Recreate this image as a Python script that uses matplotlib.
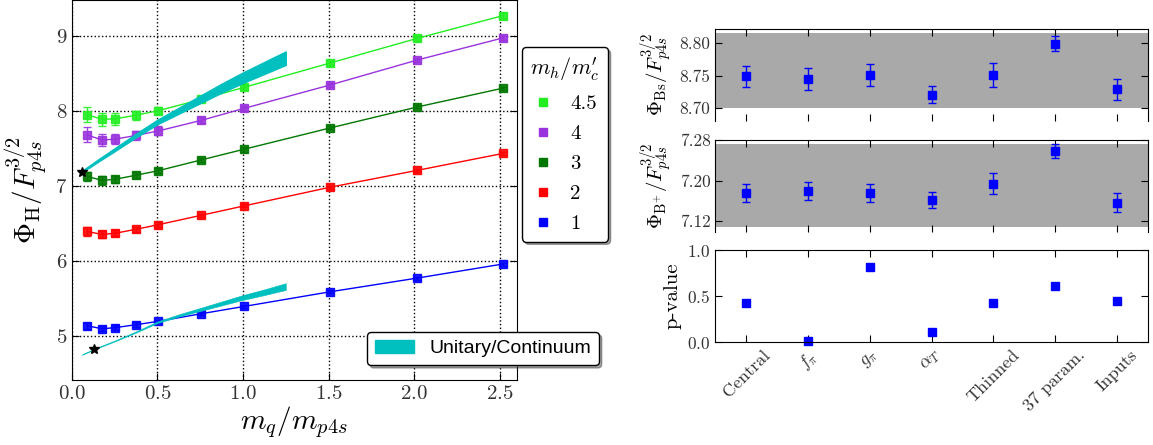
import matplotlib
matplotlib.use("Agg")
import matplotlib.pyplot as plt
from matplotlib.lines import Line2D
from matplotlib.patches import Patch

plt.rcParams['font.family'] = 'serif'
plt.rcParams['font.serif'] = ['cmr10', 'DejaVu Serif']
plt.rcParams['mathtext.fontset'] = 'cm'
plt.rcParams['axes.formatter.use_mathtext'] = True
plt.rcParams['xtick.direction'] = 'in'
plt.rcParams['ytick.direction'] = 'in'

# ---- left panel data ----
mq = [0.09, 0.175, 0.25, 0.375, 0.505, 0.755, 1.005, 1.51, 2.02, 2.52]
mh_labels = ["4.5", "4", "3", "2", "1"]
mh_colors = ["#22ee22", "#9933dd", "#007700", "#ff0000", "#0000ff"]
phi = [
    [7.947, 7.885, 7.89, 7.94, 8.0, 8.15, 8.31, 8.636, 8.965, 9.267],
    [7.676, 7.61, 7.62, 7.67, 7.73, 7.87, 8.03, 8.343, 8.676, 8.97],
    [7.125, 7.07, 7.085, 7.14, 7.2, 7.343, 7.485, 7.77, 8.05, 8.30],
    [6.39, 6.35, 6.365, 6.419, 6.48, 6.605, 6.73, 6.98, 7.205, 7.43],
    [5.133, 5.093, 5.107, 5.147, 5.192, 5.293, 5.39, 5.586, 5.769, 5.956],
]
phi_err = [
    [0.10, 0.09, 0.08, 0.06, 0.05, 0.04, 0.04, 0.03, 0.03, 0.03],
    [0.10, 0.08, 0.07, 0.06, 0.06, 0.04, 0.03, 0.03, 0.03, 0.03],
    [0.06, 0.06, 0.05, 0.04, 0.03, 0.03, 0.03, 0.02, 0.02, 0.02],
    [0.06, 0.05, 0.04, 0.03, 0.03, 0.02, 0.02, 0.02, 0.02, 0.02],
    [0.04, 0.03, 0.03, 0.03, 0.02, 0.02, 0.02, 0.02, 0.02, 0.02],
]

# unitary / continuum bands
band_x = [0.06, 0.15, 0.25, 0.375, 0.5, 0.625, 0.75, 0.875, 1.0, 1.125, 1.25]
bs_mid = [7.19, 7.33, 7.48, 7.67, 7.85, 8.0, 8.15, 8.30, 8.44, 8.57, 8.70]
bs_hw = [0.01, 0.015, 0.02, 0.025, 0.03, 0.04, 0.05, 0.06, 0.07, 0.08, 0.09]
bp_mid = [4.75, 4.84, 4.93, 5.05, 5.18, 5.27, 5.35, 5.43, 5.51, 5.58, 5.655]
bp_hw = [0.004, 0.005, 0.006, 0.008, 0.011, 0.015, 0.02, 0.026, 0.032, 0.038, 0.045]

star_x = [0.057, 0.129]
star_y = [7.18, 4.82]

# ---- right panels data ----
variants = ["Central", r"$f_\pi$", r"$g_\pi$", r"$\alpha_T$", "Thinned", "37 param.", "Inputs"]
phi_bs = [8.749, 8.745, 8.751, 8.721, 8.751, 8.799, 8.729]
phi_bs_err = [0.0163, 0.0166, 0.017, 0.0135, 0.019, 0.011, 0.0166]
phi_bp = [7.176, 7.179, 7.175, 7.1615, 7.194, 7.259, 7.156]
phi_bp_err = [0.018, 0.018, 0.018, 0.0165, 0.02, 0.0135, 0.0185]
pvalue = [0.423, 0.01, 0.817, 0.113, 0.43, 0.609, 0.449]

fig = plt.figure(figsize=(11.53, 4.45), dpi=100)

# ---------------- left ----------------
ax = fig.add_axes([0.0624, 0.1461, 0.3857, 0.854])
for i in range(len(phi)):
    c = mh_colors[i]
    ax.plot(mq, phi[i], '-', color=c, linewidth=1, zorder=2)
    ax.errorbar(mq, phi[i], yerr=phi_err[i], fmt='s', color=c, ecolor=c,
                markersize=6, capsize=3, elinewidth=1, alpha=0.9, zorder=3)

lo = [bs_mid[i] - bs_hw[i] for i in range(len(band_x))]
hi = [bs_mid[i] + bs_hw[i] for i in range(len(band_x))]
ax.fill_between(band_x, lo, hi, color='#00bfbf', linewidth=1.0, edgecolor='#00bfbf', zorder=4)
lo = [bp_mid[i] - bp_hw[i] for i in range(len(band_x))]
hi = [bp_mid[i] + bp_hw[i] for i in range(len(band_x))]
ax.fill_between(band_x, lo, hi, color='#00bfbf', linewidth=0.4, edgecolor='#00bfbf', zorder=4)
ax.plot(star_x, star_y, '*', color='k', markersize=7, zorder=5)

ax.set_xlim([0.0, 2.6])
ax.set_ylim([4.41, 9.476])
ax.set_xticks([0.0, 0.5, 1.0, 1.5, 2.0, 2.5])
ax.set_yticks([5, 6, 7, 8, 9])
ax.tick_params(labelsize=15, right=True, labelcolor='#333333', length=5)
ax.grid(True, linestyle=':', color='k', linewidth=1)
ax.set_xlabel(r"$m_q/m_{p4s}$", fontsize=21, labelpad=1)
ax.set_ylabel(r"$\Phi_{\rm H}/F_{p4s}^{3/2}$", fontsize=21, labelpad=4)

handles = []
for i in range(len(mh_labels)):
    handles.append(Line2D([], [], marker='s', linestyle='none', color=mh_colors[i], markersize=6))
leg1 = ax.legend(handles, mh_labels, title=r"$m_h/m_c'$", loc='upper left',
                 bbox_to_anchor=(1.012, 0.876), borderaxespad=0, fontsize=15,
                 title_fontsize=16, shadow=True, fancybox=True, handlelength=1.0,
                 labelspacing=0.55, framealpha=1, edgecolor='k')
ax.add_artist(leg1)
leg2 = ax.legend([Patch(color='#00bfbf')], ["Unitary/Continuum"], loc='lower right',
                 bbox_to_anchor=(1.185, 0.039), borderaxespad=0,
                 prop={'family': 'Liberation Sans', 'size': 14}, shadow=True,
                 fancybox=True, framealpha=1, edgecolor='k', handlelength=2.0)

# ---------------- right ----------------
xs = list(range(len(variants)))
ax1 = fig.add_axes([0.6204, 0.7288, 0.375, 0.2054])
ax2 = fig.add_axes([0.6204, 0.4793, 0.375, 0.2060])
ax3 = fig.add_axes([0.6204, 0.2308, 0.375, 0.2074])

ax1.axhspan(8.70, 8.816, color='#a9a9a9', linewidth=0, zorder=0)
ax1.errorbar(xs, phi_bs, yerr=phi_bs_err, fmt='s', color='#0000ff', markersize=6,
             capsize=3, elinewidth=1)
ax1.set_ylim([8.681, 8.821])
ax1.set_yticks([8.70, 8.75, 8.80])
ax1.yaxis.set_major_formatter(matplotlib.ticker.FormatStrFormatter("%.2f"))
ax1.set_ylabel(r"$\Phi_{\rm Bs}/F_{p4s}^{3/2}$", fontsize=15)

ax2.axhspan(7.109, 7.273, color='#a9a9a9', linewidth=0, zorder=0)
ax2.errorbar(xs, phi_bp, yerr=phi_bp_err, fmt='s', color='#0000ff', markersize=6,
             capsize=3, elinewidth=1)
ax2.set_ylim([7.099, 7.28])
ax2.set_yticks([7.12, 7.20, 7.28])
ax2.yaxis.set_major_formatter(matplotlib.ticker.FormatStrFormatter("%.2f"))
ax2.set_ylabel(r"$\Phi_{\rm B^{+}}/F_{p4s}^{3/2}$", fontsize=15)

ax3.plot(xs, pvalue, 's', color='#0000ff', markersize=6, clip_on=False)
ax3.set_ylim([0.0, 1.0])
ax3.set_yticks([0.0, 0.5, 1.0])
ax3.set_ylabel("p-value", fontsize=15)

for a in [ax1, ax2, ax3]:
    a.set_xlim([-0.5, 6.5])
    a.set_xticks(xs)
    a.tick_params(labelsize=12.5, right=True, top=True, labelcolor='#333333', length=5)
for a in [ax1, ax2]:
    a.spines['bottom'].set_visible(False)
    a.set_xticklabels([])
ax3.set_xticklabels(variants, rotation=45, ha='center', fontsize=13)

fig.savefig("out.png", dpi=100)
